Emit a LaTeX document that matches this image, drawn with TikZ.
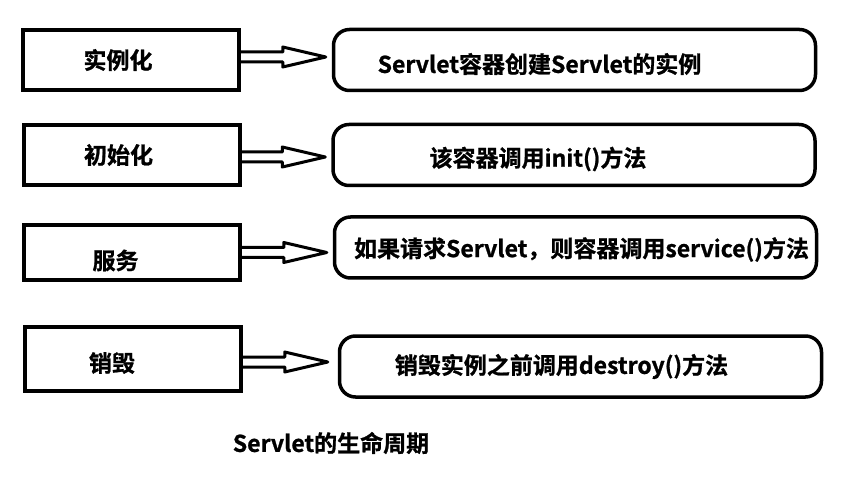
\documentclass[tikz,border=0pt]{standalone}
\usepackage{fontspec}
\setmainfont{Noto Sans CJK SC}[BoldFont={Noto Sans CJK SC Bold},BoldFeatures={FakeBold=1}]
\tikzset{
	stage/.style={draw,line width=4pt,minimum width=216pt,minimum height=60pt,inner sep=0pt},
	step box/.style={draw,line width=3.5pt,rounded corners=16pt,minimum width=482pt,minimum height=61pt,inner sep=0pt},
	txt/.style={font=\fontsize{23}{27}\selectfont\bfseries},
	arr/.style={line width=3pt,line join=round}
}
% hohler Blockpfeil von #1 bis zur Spitze #2
\newcommand{\lifearrow}[2]{%
	\draw[arr] ([yshift=-5pt]#1) -- ([xshift=-43pt,yshift=-5pt]#2) -- ([xshift=-43pt,yshift=-10pt]#2)
		-- (#2) -- ([xshift=-43pt,yshift=10pt]#2) -- ([xshift=-43pt,yshift=5pt]#2) -- ([yshift=5pt]#1);}
\begin{document}
\begin{tikzpicture}[x=1pt,y=-1pt]
	\useasboundingbox (0,0) rectangle (859,478);
	% Stufen links
	\node[stage] (b1) at (131,60) {};
	\node[stage] (b2) at (131.5,155) {};
	\node[stage,minimum height=55pt] (b3) at (131.5,252.5) {};
	\node[stage,minimum height=64pt] (b4) at (133,359) {};
	\node[txt] (s1) at ([xshift=-13pt]b1.center) {实例化};
	\node[txt] (s2) at ([xshift=-13pt]b2.center) {初始化};
	\node[txt] (s3) at ([xshift=-16pt,yshift=-8pt]b3.center) {服务};
	\node[txt] (s4) at ([xshift=-21pt,yshift=-4pt]b4.center) {销毁};
	% Beschreibungen rechts
	\node[step box] (e1) at (574.5,60) {};
	\node[step box] (e2) at (574,155) {};
	\node[step box] (e3) at (575.5,247.5) {};
	\node[step box] (e4) at (580.5,366.5) {};
	\node[txt] (d1) at ([xshift=-35pt,yshift=-4pt]e1.center) {Servlet容器创建Servlet的实例};
	\node[txt] (d2) at ([xshift=-36pt,yshift=-4pt]e2.center) {该容器调用init()方法};
	\node[txt] (d3) at ([xshift=6pt,yshift=-2pt]e3.center) {如果请求Servlet，则容器调用service()方法};
	\node[txt] (d4) at ([xshift=-19pt]e4.center) {销毁实例之前调用destroy()方法};
	% Pfeile
	\coordinate (a1) at ([yshift=3pt]b1.east);
	\coordinate (a2) at ([yshift=-2pt]b2.east);
	\coordinate (a3) at (b3.east);
	\coordinate (a4) at ([yshift=-3pt]b4.east);
	\coordinate (t1) at ([xshift=-6pt]a1 -| e1.west);
	\coordinate (t2) at ([xshift=-6pt]a2 -| e2.west);
	\coordinate (t3) at ([xshift=-6pt]a3 -| e3.west);
	\coordinate (t4) at ([xshift=-10pt]a4 -| e4.west);
	\lifearrow{a1}{t1}
	\lifearrow{a2}{t2}
	\lifearrow{a3}{t3}
	\lifearrow{a4}{t4}
	\node[txt] (cap) at (331,443) {Servlet的生命周期};
\end{tikzpicture}
\end{document}
